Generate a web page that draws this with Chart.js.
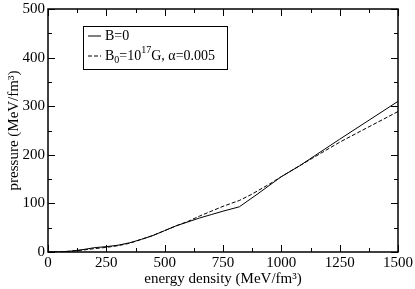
<!DOCTYPE html>
<html>
<head>
<meta charset="utf-8">
<script src="https://cdn.jsdelivr.net/npm/chart.js@4.4.0/dist/chart.umd.min.js"></script>
<style>
html, body { margin: 0; padding: 0; background: #fff; }
#wrap { width: 415px; height: 289px; }
</style>
</head>
<body>
<div id="wrap"><canvas id="c"></canvas></div>
<script>
// B=0 (ligne continue)
const energyB0   = [0, 50, 100, 150, 200, 250, 300, 350, 400, 450, 500, 550, 600, 650, 700, 750, 820, 900, 1000, 1077, 1250, 1500];
const pressureB0 = [0, 0.2, 2, 5, 9, 11, 14, 19, 26, 34, 44, 54, 62, 70, 77, 84, 93, 120, 155, 177, 232, 310];

// B0=10^17 G, alpha=0.005 (tirets)
const energyMag   = [0, 50, 100, 150, 200, 250, 300, 350, 400, 450, 500, 550, 600, 650, 700, 750, 820, 870, 950, 1000, 1077, 1250, 1500];
const pressureMag = [0, 0.2, 1.5, 4, 7, 9.5, 13, 18, 26, 34, 44, 54, 63, 74, 84, 94, 106, 118, 140, 155, 177, 226, 289];

const xTicks = [0, 250, 500, 750, 1000, 1250, 1500];
const yTicks = [0, 100, 200, 300, 400, 500];

const serif = "'Liberation Serif', 'DejaVu Serif', serif";

function toPoints(xs, ys) {
    const pts = [];
    for (let i = 0; i < xs.length; i++) {
        pts.push({x: xs[i], y: ys[i]});
    }
    return pts;
}

// cadre + petites graduations vers l'intérieur sur les 4 côtés
const frame = {
    id: 'frame',
    afterDraw(chart) {
        const ctx = chart.ctx;
        const a = chart.chartArea;
        const x = chart.scales.x;
        const y = chart.scales.y;
        ctx.save();
        ctx.strokeStyle = '#000';
        ctx.lineWidth = 1;
        ctx.beginPath();
        for (let v = 0; v <= 1500; v += 125) {
            const px = Math.round(x.getPixelForValue(v)) + 0.5;
            const len = (v % 250 === 0) ? 7 : 4;
            ctx.moveTo(px, a.bottom); ctx.lineTo(px, a.bottom - len);
            ctx.moveTo(px, a.top); ctx.lineTo(px, a.top + len);
        }
        for (let v = 0; v <= 500; v += 50) {
            const py = Math.round(y.getPixelForValue(v)) + 0.5;
            const len = (v % 100 === 0) ? 7 : 4;
            ctx.moveTo(a.left, py); ctx.lineTo(a.left + len, py);
            ctx.moveTo(a.right, py); ctx.lineTo(a.right - len, py);
        }
        ctx.stroke();
        ctx.lineWidth = 1.5;
        ctx.strokeRect(a.left, a.top, a.right - a.left, a.bottom - a.top);

        // légende dans le graphique
        const bx = a.left + 35, by = a.top + 17;
        ctx.lineWidth = 1;
        ctx.strokeRect(bx + 0.5, by + 0.5, 144, 43);
        ctx.fillStyle = '#000';
        ctx.textBaseline = 'middle';
        const sets = chart.data.datasets;
        const rows = [by + 10, by + 30];
        for (let i = 0; i < sets.length; i++) {
            ctx.setLineDash(sets[i].borderDash || []);
            ctx.beginPath();
            ctx.moveTo(bx + 5, rows[i]);
            ctx.lineTo(bx + 18, rows[i]);
            ctx.stroke();
        }
        ctx.setLineDash([]);
        ctx.font = '14px ' + serif;
        let tx = bx + 22;
        ctx.fillText('B=0', tx, rows[0]);
        // B0=10^17G, α=0.005
        ctx.fillText('B', tx, rows[1]);
        tx += ctx.measureText('B').width;
        ctx.font = '10px ' + serif;
        ctx.fillText('0', tx, rows[1] + 4);
        tx += ctx.measureText('0').width;
        ctx.font = '14px ' + serif;
        ctx.fillText('=10', tx, rows[1]);
        tx += ctx.measureText('=10').width;
        ctx.font = '10px ' + serif;
        ctx.fillText('17', tx, rows[1] - 6);
        tx += ctx.measureText('17').width;
        ctx.font = '14px ' + serif;
        ctx.fillText('G, \u03b1=0.005', tx, rows[1]);
        ctx.restore();
    }
};

window.addEventListener('load', (event) => {
    const data = {
        datasets: [{
            label: 'B=0',
            data: toPoints(energyB0, pressureB0),
            borderColor: '#000',
            borderWidth: 1,
            pointRadius: 0,
            fill: false
        }, {
            label: 'B0=10^17G, alpha=0.005',
            data: toPoints(energyMag, pressureMag),
            borderColor: '#000',
            borderWidth: 1,
            borderDash: [4, 2],
            pointRadius: 0,
            fill: false
        }]
    };

    const config = {
        type: 'line',
        data: data,
        options: {
            responsive: true,
            maintainAspectRatio: false,
            animation: false,
            devicePixelRatio: 1,
            layout: { padding: { left: 0, right: 2, top: 0, bottom: 0 } },
            plugins: { legend: { display: false }, tooltip: { enabled: false } },
            scales: {
                x: {
                    type: 'linear',
                    min: 0, max: 1500,
                    afterBuildTicks: (s) => { s.ticks = xTicks.map(v => ({value: v})); },
                    afterFit: (s) => { s.height = 37; },
                    grid: { display: false, drawTicks: false },
                    border: { display: false },
                    ticks: { color: '#000', padding: 2, font: { family: serif, size: 15 }, callback: (v) => String(v) },
                    title: { display: true, text: 'energy density (MeV/fm\u00b3)', color: '#000', padding: { top: 0, bottom: 1 }, font: { family: serif, size: 15 } }
                },
                y: {
                    type: 'linear',
                    min: 0, max: 500,
                    afterBuildTicks: (s) => { s.ticks = yTicks.map(v => ({value: v})); },
                    afterFit: (s) => { s.width = 48; },
                    grid: { display: false, drawTicks: false },
                    border: { display: false },
                    ticks: { color: '#000', padding: 3, font: { family: serif, size: 15, lineHeight: 0.8 }, callback: (v) => String(v) },
                    title: { display: true, text: 'pressure (MeV/fm\u00b3)', color: '#000', padding: { top: 5, bottom: 0 }, font: { family: serif, size: 15 } }
                }
            }
        },
        plugins: [frame]
    };

    new Chart(document.getElementById('c'), config);
});
</script>
</body>
</html>
